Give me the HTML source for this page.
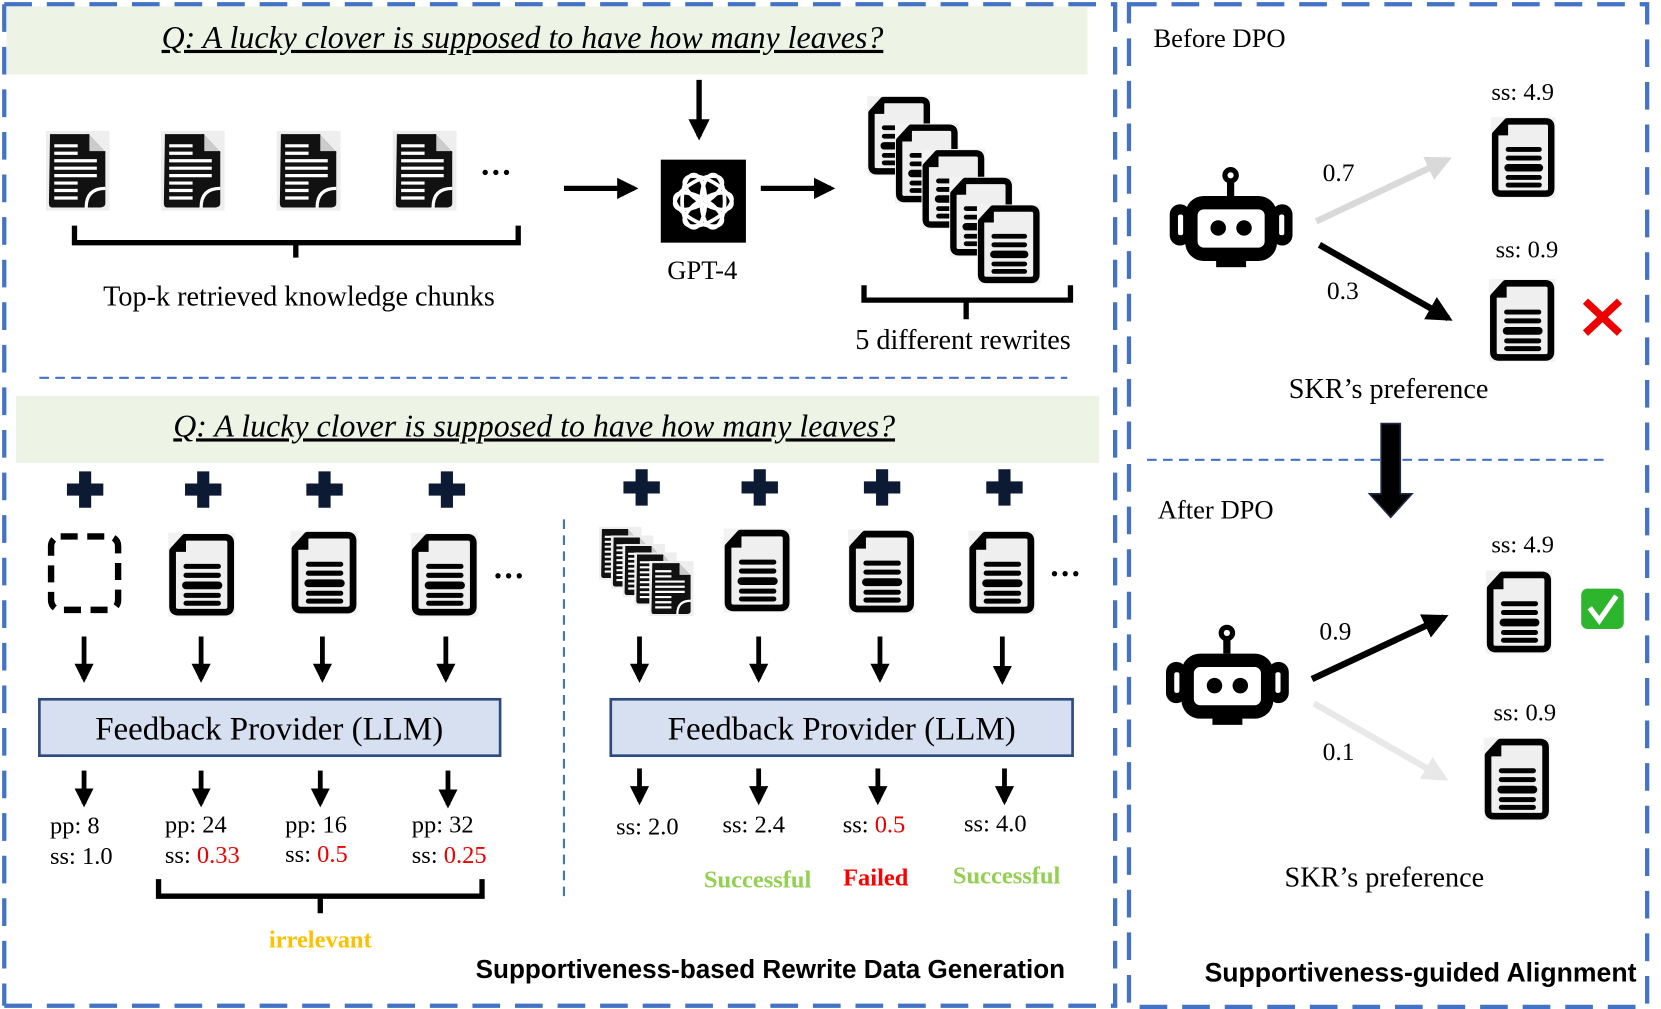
<!DOCTYPE html>
<html><head><meta charset="utf-8"><style>
html,body{margin:0;padding:0;background:#fff;width:1661px;height:1009px;overflow:hidden}
svg text{font-family:"Liberation Serif",serif;fill:#000}
.b{font-family:"Liberation Sans",sans-serif;font-weight:bold}
</style></head><body>
<svg width="1661" height="1009" viewBox="0 0 1561 948" preserveAspectRatio="none" xmlns="http://www.w3.org/2000/svg">
<defs>
<symbol id="doc" viewBox="0 0 60 75">
<rect x="0" y="0" width="60" height="75" fill="#f2f2f2"/>
<path d="M15,4 H51 Q56,4 56,9 V66 Q56,71 51,71 H9 Q4,71 4,66 V16 Z" fill="#efefef" stroke="#000" stroke-width="6" stroke-linejoin="round"/>
<path d="M4,17 L16,17 L16,4 Z" fill="#000"/>
<g stroke="#000" stroke-width="4.5" stroke-linecap="round"><line x1="16" y1="30" x2="45" y2="30"/><line x1="16" y1="38" x2="45" y2="38"/><line x1="16" y1="47" x2="45" y2="47" stroke-width="7"/><line x1="16" y1="56" x2="45" y2="56"/><line x1="16" y1="63" x2="45" y2="63"/></g>
</symbol>
<symbol id="chunk" viewBox="0 0 60 75">
<rect width="60" height="75" fill="#eee"/>
<path d="M4,3 H40 L56,20 V68 Q56,72 50,72 H6 Q3,72 3,68 Z" fill="#111"/>
<path d="M40,3 V20 H56" fill="#ccc" stroke="#111" stroke-width="2"/>
<g stroke="#fff" stroke-width="3"><line x1="8" y1="14" x2="30" y2="14"/><line x1="8" y1="21" x2="30" y2="21"/><line x1="8" y1="28" x2="48" y2="28"/><line x1="8" y1="35" x2="48" y2="35"/><line x1="8" y1="42" x2="48" y2="42"/><line x1="8" y1="49" x2="30" y2="49"/><line x1="8" y1="56" x2="30" y2="56"/><line x1="8" y1="63" x2="30" y2="63"/></g>
<path d="M38,72 Q38,54 56,54" fill="none" stroke="#fff" stroke-width="3"/>
</symbol>
<symbol id="robot" viewBox="0 0 125 100">
<line x1="62" y1="10" x2="62" y2="30" stroke="#000" stroke-width="7"/>
<circle cx="62" cy="10" r="8" fill="#000"/><circle cx="62" cy="10" r="3" fill="#fff"/>
<rect x="3" y="38" width="20" height="40" rx="10" fill="#000"/><rect x="102" y="38" width="20" height="40" rx="10" fill="#000"/>
<rect x="18" y="30" width="89" height="63" rx="18" fill="#000"/>
<rect x="48" y="90" width="29" height="9" fill="#000"/>
<rect x="30" y="43" width="65" height="37" rx="6" fill="#fff"/>
<circle cx="50" cy="61" r="7.5" fill="#000"/><circle cx="75" cy="61" r="7.5" fill="#000"/>
<rect x="11" y="48" width="5" height="20" rx="2" fill="#fff"/><rect x="109" y="48" width="5" height="20" rx="2" fill="#fff"/>
</symbol>
<symbol id="plus" viewBox="0 0 40 40"><path d="M14,2 H26 V14 H38 V26 H26 V38 H14 V26 H2 V14 H14 Z" fill="#0d1a33"/></symbol>
<marker id="ah" viewBox="0 0 10 10" refX="8" refY="5" markerWidth="4" markerHeight="4" orient="auto"><path d="M0,0 L10,5 L0,10 Z" fill="#000"/></marker>
<marker id="ahg" viewBox="0 0 10 10" refX="8" refY="5" markerWidth="4" markerHeight="4" orient="auto"><path d="M0,0 L10,5 L0,10 Z" fill="#d9d9d9"/></marker>
<marker id="ahl" viewBox="0 0 10 10" refX="8" refY="5" markerWidth="4" markerHeight="4" orient="auto"><path d="M0,0 L10,5 L0,10 Z" fill="#e8e8e8"/></marker>
</defs>

<g fill="none" stroke="#4472c4" stroke-width="4" stroke-dasharray="26,14">
<path d="M4,4 H1050 M4,4 V945 M4,945 H1050"/>
<path d="M1048,4 V945"/>
<path d="M1061,4 H1548 V946 H1061 Z"/>
</g>
<g stroke="#4472c4" stroke-width="2" stroke-dasharray="9,6">
<line x1="37" y1="355" x2="1003" y2="355"/>
<line x1="530" y1="488" x2="530" y2="842"/>
<line x1="1078" y1="432" x2="1508" y2="432"/>
</g>

<rect x="6" y="6" width="1016" height="64" fill="#edf4e6"/>
<rect x="15" y="372" width="1018" height="63" fill="#edf4e6"/>
<text x="491" y="45" font-size="30" font-style="italic" text-anchor="middle" text-decoration="underline">Q: A lucky clover is supposed to have how many leaves?</text>
<text x="502" y="410" font-size="30" font-style="italic" text-anchor="middle" text-decoration="underline">Q: A lucky clover is supposed to have how many leaves?</text>

<use href="#chunk" x="43" y="123" width="60" height="75"/>
<use href="#chunk" x="151" y="123" width="60" height="75"/>
<use href="#chunk" x="260" y="123" width="60" height="75"/>
<use href="#chunk" x="369" y="123" width="60" height="75"/>
<g fill="#000"><circle cx="456" cy="162" r="2.5"/><circle cx="466" cy="162" r="2.5"/><circle cx="476" cy="162" r="2.5"/></g>
<path d="M70,212 V228 H487 V212 M278,228 V242" fill="none" stroke="#000" stroke-width="5"/>
<text x="281" y="287" font-size="26.5" text-anchor="middle">Top-k retrieved knowledge chunks</text>
<line x1="657" y1="75" x2="657" y2="128" stroke="#000" stroke-width="5" marker-end="url(#ah)"/>
<line x1="530" y1="177" x2="596" y2="177" stroke="#000" stroke-width="5" marker-end="url(#ah)"/>
<line x1="715" y1="177" x2="781" y2="177" stroke="#000" stroke-width="5" marker-end="url(#ah)"/>
<rect x="621" y="150" width="80" height="78" fill="#000"/>
<g fill="none" stroke="#fff" stroke-width="3.5">
<g transform="translate(661,189)">
<ellipse rx="11" ry="25" transform="rotate(0) translate(9,0)"/>
<ellipse rx="11" ry="25" transform="rotate(60) translate(9,0)"/>
<ellipse rx="11" ry="25" transform="rotate(120) translate(9,0)"/>
<ellipse rx="11" ry="25" transform="rotate(180) translate(9,0)"/>
<ellipse rx="11" ry="25" transform="rotate(240) translate(9,0)"/>
<ellipse rx="11" ry="25" transform="rotate(300) translate(9,0)"/>
</g></g>
<text x="660" y="262" font-size="25" text-anchor="middle">GPT-4</text>
<use href="#doc" x="815" y="90" width="60" height="75"/>
<use href="#doc" x="841" y="116" width="60" height="75"/>
<use href="#doc" x="866" y="140" width="60" height="75"/>
<use href="#doc" x="892" y="166" width="60" height="75"/>
<use href="#doc" x="918" y="192" width="60" height="75"/>
<path d="M812,268 V282 H1006 V268 M908,282 V300" fill="none" stroke="#000" stroke-width="5"/>
<text x="905" y="328" font-size="26.5" text-anchor="middle">5 different rewrites</text>

<g>
<use href="#plus" x="61" y="441" width="38" height="38"/>
<use href="#plus" x="172" y="441" width="38" height="38"/>
<use href="#plus" x="286" y="441" width="38" height="38"/>
<use href="#plus" x="401" y="441" width="38" height="38"/>
<use href="#plus" x="584" y="439" width="38" height="38"/>
<use href="#plus" x="695" y="439" width="38" height="38"/>
<use href="#plus" x="810" y="439" width="38" height="38"/>
<use href="#plus" x="925" y="439" width="38" height="38"/>
</g>
<rect x="48" y="504" width="63" height="69" rx="9" fill="none" stroke="#000" stroke-width="6" stroke-dasharray="16,9"/>
<use href="#doc" x="158" y="500" width="63" height="80"/>
<use href="#doc" x="273" y="498" width="63" height="80"/>
<use href="#doc" x="386" y="500" width="63" height="80"/>
<g fill="#000"><circle cx="468" cy="541" r="2.5"/><circle cx="478" cy="541" r="2.5"/><circle cx="488" cy="541" r="2.5"/></g>
<use href="#chunk" x="563" y="495" width="40" height="50"/>
<use href="#chunk" x="574" y="503" width="40" height="50"/>
<use href="#chunk" x="585" y="511" width="40" height="50"/>
<use href="#chunk" x="596" y="519" width="40" height="50"/>
<use href="#chunk" x="607" y="527" width="48" height="52"/>
<use href="#doc" x="680" y="496" width="63" height="80"/>
<use href="#doc" x="797" y="497" width="63" height="80"/>
<use href="#doc" x="910" y="498" width="63" height="80"/>
<g fill="#000"><circle cx="991" cy="539" r="2.5"/><circle cx="1001" cy="539" r="2.5"/><circle cx="1011" cy="539" r="2.5"/></g>

<g stroke="#000" stroke-width="4.5" marker-end="url(#ah)">
<line x1="79" y1="598" x2="79" y2="638"/><line x1="189" y1="598" x2="189" y2="638"/><line x1="303" y1="598" x2="303" y2="638"/><line x1="419" y1="598" x2="419" y2="638"/>
<line x1="601" y1="598" x2="601" y2="638"/><line x1="713" y1="598" x2="713" y2="638"/><line x1="827" y1="598" x2="827" y2="638"/><line x1="942" y1="598" x2="942" y2="640"/>
<line x1="79" y1="724" x2="79" y2="755"/><line x1="189" y1="724" x2="189" y2="755"/><line x1="301" y1="724" x2="301" y2="755"/><line x1="421" y1="724" x2="421" y2="756"/>
<line x1="601" y1="722" x2="601" y2="753"/><line x1="713" y1="722" x2="713" y2="753"/><line x1="825" y1="722" x2="825" y2="753"/><line x1="944" y1="722" x2="944" y2="753"/>
</g>
<rect x="37" y="657" width="433" height="53" fill="#d6e0f1" stroke="#2f4a7c" stroke-width="2.5"/>
<rect x="574" y="657" width="434" height="53" fill="#d6e0f1" stroke="#2f4a7c" stroke-width="2.5"/>
<text x="253" y="695" font-size="31" text-anchor="middle">Feedback Provider (LLM)</text>
<text x="791" y="695" font-size="31" text-anchor="middle">Feedback Provider (LLM)</text>

<g font-size="23">
<text x="47" y="783">pp: 8</text><text x="47" y="812">ss: 1.0</text>
<text x="155" y="782">pp: 24</text><text x="155" y="811">ss: <tspan fill="#e00">0.33</tspan></text>
<text x="268" y="782">pp: 16</text><text x="268" y="810">ss: <tspan fill="#e00">0.5</tspan></text>
<text x="387" y="782">pp: 32</text><text x="387" y="811">ss: <tspan fill="#e00">0.25</tspan></text>
<text x="579" y="784">ss: 2.0</text>
<text x="679" y="782">ss: 2.4</text>
<text x="792" y="782">ss: <tspan fill="#e00">0.5</tspan></text>
<text x="906" y="781">ss: 4.0</text>
</g>
<g font-size="23" font-weight="bold" text-anchor="middle">
<text x="712" y="834" style="fill:#92d050">Successful</text>
<text x="823" y="832" style="fill:#f00">Failed</text>
<text x="946" y="830" style="fill:#92d050">Successful</text>
<text x="301" y="890" style="fill:#ffc000">irrelevant</text>
</g>
<path d="M149,826 V842 H453 V826 M301,842 V858" fill="none" stroke="#000" stroke-width="5"/>
<text class="b" x="724" y="919" font-size="24.5" text-anchor="middle">Supportiveness-based Rewrite Data Generation</text>

<text x="1084" y="44" font-size="25">Before DPO</text>
<use href="#robot" x="1096" y="155" width="122" height="97"/>
<text x="1431" y="94" font-size="23" text-anchor="middle">ss: 4.9</text>
<use href="#doc" x="1400" y="110" width="63" height="76"/>
<text x="1435" y="242" font-size="23" text-anchor="middle">ss: 0.9</text>
<use href="#doc" x="1398" y="262" width="65" height="78"/>
<path d="M1490,283 L1522,313 M1522,283 L1490,313" stroke="#e00" stroke-width="7"/>
<text x="1258" y="170" font-size="24" text-anchor="middle">0.7</text>
<text x="1262" y="281" font-size="24" text-anchor="middle">0.3</text>
<line x1="1237" y1="208" x2="1360" y2="150" stroke="#d9d9d9" stroke-width="6" marker-end="url(#ahg)"/>
<line x1="1240" y1="230" x2="1361" y2="299" stroke="#000" stroke-width="6" marker-end="url(#ah)"/>
<text x="1305" y="374" font-size="26.5" text-anchor="middle">SKR’s preference</text>
<path d="M1298,398 H1316 V464 H1327 L1307,486 L1287,464 H1298 Z" fill="#000" stroke="#1f2a44" stroke-width="1.5"/>
<text x="1088" y="487" font-size="25">After DPO</text>
<text x="1431" y="519" font-size="23" text-anchor="middle">ss: 4.9</text>
<use href="#doc" x="1395" y="536" width="65" height="78"/>
<rect x="1486" y="553" width="40" height="38" rx="6" fill="#2db52d"/>
<path d="M1494,571 L1503,583 L1519,560" fill="none" stroke="#fff" stroke-width="5"/>
<use href="#robot" x="1092" y="585" width="123" height="97"/>
<text x="1255" y="601" font-size="24" text-anchor="middle">0.9</text>
<text x="1258" y="714" font-size="24" text-anchor="middle">0.1</text>
<line x1="1233" y1="638" x2="1357" y2="580" stroke="#000" stroke-width="6" marker-end="url(#ah)"/>
<line x1="1235" y1="661" x2="1357" y2="731" stroke="#e8e8e8" stroke-width="6" marker-end="url(#ahl)"/>
<text x="1433" y="677" font-size="23" text-anchor="middle">ss: 0.9</text>
<use href="#doc" x="1393" y="693" width="65" height="78"/>
<text x="1301" y="833" font-size="26.5" text-anchor="middle">SKR’s preference</text>
<text class="b" x="1335" y="922" font-size="25" text-anchor="middle">Supportiveness-guided Alignment</text>
</svg>
</body></html>
